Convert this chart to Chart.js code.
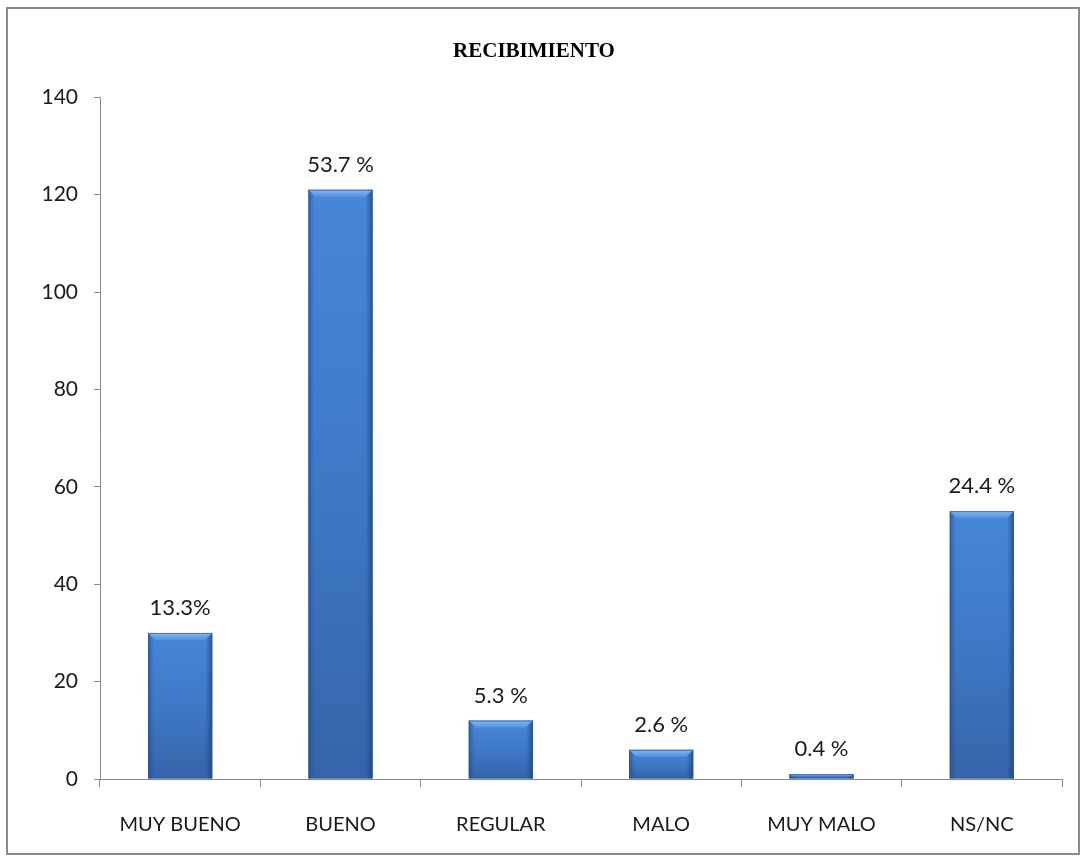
<!DOCTYPE html>
<html lang="es">
<head>
  <meta charset="UTF-8" />
  <title>Recibimiento</title>
  <script src="https://cdn.jsdelivr.net/npm/chart.js"></script>
  <style>
    html, body { margin: 0; padding: 0; background: #fff; }
    #wrap { position: relative; width: 1086px; height: 862px; }
  </style>
</head>
<body>
  <div id="wrap"><canvas id="grafico" width="1086" height="862"></canvas></div>

  <script>
    // datos
    const categorias = ['MUY BUENO', 'BUENO', 'REGULAR', 'MALO', 'MUY MALO', 'NS/NC'];
    const valores = [30, 121, 12, 6, 1, 55];
    const porcentajes = ['13.3%', '53.7 %', '5.3 %', '2.6 %', '0.4 %', '24.4 %'];
    const ticksY = [0, 20, 40, 60, 80, 100, 120, 140];

    // borde exterior del gráfico
    const bordePlugin = {
      id: 'borde',
      beforeDraw(chart) {
        const c = chart.ctx;
        c.save();
        c.strokeStyle = '#8a8a8a';
        c.lineWidth = 2;
        c.strokeRect(7, 8, 1072, 846);
        c.restore();
      }
    };

    // efecto biselado de las barras + etiquetas de porcentaje
    const biselPlugin = {
      id: 'bisel',
      afterDatasetsDraw(chart) {
        const c = chart.ctx;
        const meta = chart.getDatasetMeta(0);
        c.save();
        meta.data.forEach((bar, i) => {
          const x0 = bar.x - bar.width / 2;
          const x1 = bar.x + bar.width / 2;
          const top = bar.y;
          const base = bar.base;
          const h = base - top;
          const b = Math.min(7, h / 2);

          // lados oscuros
          let g = c.createLinearGradient(x0, 0, x0 + 6, 0);
          g.addColorStop(0, 'rgba(30,70,130,0.55)');
          g.addColorStop(1, 'rgba(30,70,130,0)');
          c.fillStyle = g;
          c.fillRect(x0, top, 6, h);
          g = c.createLinearGradient(x1 - 7, 0, x1, 0);
          g.addColorStop(0, 'rgba(25,60,115,0)');
          g.addColorStop(1, 'rgba(25,60,115,0.65)');
          c.fillStyle = g;
          c.fillRect(x1 - 7, top, 7, h);

          // bisel superior claro
          c.beginPath();
          c.moveTo(x0, top);
          c.lineTo(x1, top);
          c.lineTo(x1 - b, top + b);
          c.lineTo(x0 + b, top + b);
          c.closePath();
          g = c.createLinearGradient(0, top, 0, top + b);
          g.addColorStop(0, 'rgba(140,195,250,0.9)');
          g.addColorStop(1, 'rgba(95,155,230,0.6)');
          c.fillStyle = g;
          c.fill();

          // borde fino
          c.strokeStyle = 'rgba(40,80,140,0.7)';
          c.lineWidth = 1;
          c.strokeRect(x0 + 0.5, top + 0.5, bar.width - 1, h - 1);

          // etiqueta
          c.fillStyle = '#1a1a1a';
          c.font = '22px Lato, "Open Sans", sans-serif';
          c.textAlign = 'center';
          c.textBaseline = 'middle';
          c.fillText(porcentajes[i], bar.x, top - 25);
        });
        c.restore();
      }
    };

    function colorBarra(context) {
      const chart = context.chart;
      const y = chart.scales.y;
      if (!y || context.dataIndex === undefined) return '#3f7dcc';
      const v = valores[context.dataIndex];
      const top = y.getPixelForValue(v);
      const base = y.getPixelForValue(0);
      if (!isFinite(top) || !isFinite(base) || base - top < 1) return '#3f7dcc';
      const g = chart.ctx.createLinearGradient(0, top, 0, base);
      g.addColorStop(0, '#4787d8');
      g.addColorStop(0.5, '#3e79c6');
      g.addColorStop(1, '#3564a8');
      return g;
    }

    const ctx = document.getElementById('grafico').getContext('2d');
    new Chart(ctx, {
      type: 'bar',
      data: {
        labels: categorias,
        datasets: [{
          label: 'Recibimiento',
          data: valores,
          backgroundColor: colorBarra,
          borderWidth: 0,
          categoryPercentage: 1,
          barPercentage: 0.4
        }]
      },
      options: {
        responsive: false,
        animation: false,
        layout: { padding: { left: 6, right: 24, top: 0, bottom: 0 } },
        plugins: {
          legend: { display: false },
          tooltip: { enabled: false },
          title: {
            display: true,
            text: 'RECIBIMIENTO',
            color: '#000',
            font: { family: '"Liberation Serif", "DejaVu Serif", serif', size: 21, weight: 'bold' },
            padding: { top: 39, bottom: 33 }
          }
        },
        scales: {
          y: {
            min: 0,
            max: 140,
            afterBuildTicks(s) { s.ticks = ticksY.map(v => ({ value: v })); },
            afterFit(s) { s.width = 94; },
            border: { display: true, color: '#8a8a8a', width: 1 },
            grid: { drawOnChartArea: false, drawTicks: true, tickLength: 6, color: '#8a8a8a' },
            ticks: { color: '#1a1a1a', padding: 16, font: { family: 'Lato, "Open Sans", sans-serif', size: 21 } }
          },
          x: {
            afterFit(s) { s.height = 83; },
            border: { display: true, color: '#8a8a8a', width: 1 },
            grid: { drawOnChartArea: false, drawTicks: true, tickLength: 8, color: '#8a8a8a', offset: true },
            ticks: { color: '#1a1a1a', padding: 26, maxRotation: 0, font: { family: 'Lato, "Open Sans", sans-serif', size: 20 } }
          }
        }
      },
      plugins: [bordePlugin, biselPlugin]
    });
  </script>
</body>
</html>
